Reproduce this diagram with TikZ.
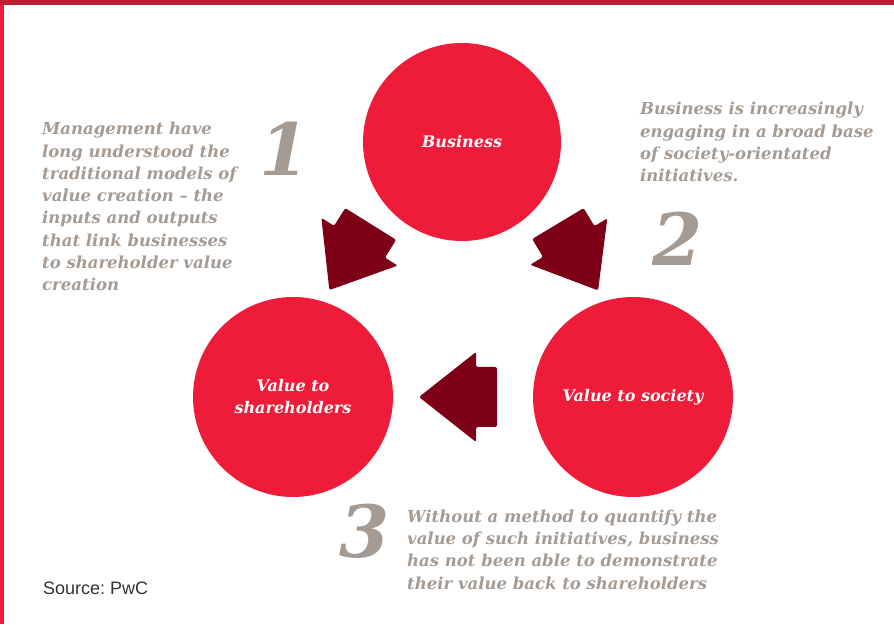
\documentclass[tikz,border=0pt]{standalone}
\usepackage{fontspec}
\setmainfont{DejaVu Serif}
\setsansfont{Liberation Sans}
\definecolor{pwcred}{HTML}{EE1C39}
\definecolor{pwcbar}{HTML}{BA1F33}
\definecolor{pwcdark}{HTML}{7D0017}
\definecolor{pwcgrey}{HTML}{A69B92}
\tikzset{
  circ/.style={circle, fill=pwcred, minimum size=200pt, inner sep=0pt,
    text=white, align=center, font=\fontsize{16}{22}\selectfont\bfseries\itshape},
  note/.style={anchor=north west, inner sep=0pt, align=left, text=pwcgrey,
    font=\fontsize{16.5}{22.3}\selectfont\bfseries\itshape},
  num/.style={inner sep=0pt, text=pwcgrey, font=\fontsize{72}{72}\selectfont\bfseries\itshape},
  bigarrow/.pic={
    \fill[pwcdark, rounded corners=2pt] (39,0) -- (-18,45) -- (-18,30) -- (-39,30)
      -- (-39,-30) -- (-18,-30) -- (-18,-45) -- cycle;
  },
}
\begin{document}
\begin{tikzpicture}[x=1pt, y=1pt]
\useasboundingbox (0,0) rectangle (894,624);
\fill[pwcbar] (0,619) rectangle (894,624);
\fill[pwcred] (0,0) rectangle (4,619);
% circles
\node[circ, minimum size=198pt] (bus) at (462,482) {Business};
\node[circ] (sha) at (293,227) {Value to\\shareholders};
\node[circ] (soc) at (633,227) {Value to society};
% arrows
\pic[rotate=238] (arr1) at (350,367) {bigarrow};
\pic[rotate=301] (arr2) at (578,367) {bigarrow};
\pic[rotate=180] (arr3) at (458,227) {bigarrow};
% numbers
\node[num] (n1) at (285,475) {1};
\node[num] (n2) at (678,385) {2};
\node[num] (n3) at (365,93) {3};
% texts
\node[note] (t1) at (42,502) {Management have\\long understood the\\traditional models of\\value creation – the\\inputs and outputs\\that link businesses\\to shareholder value\\creation};
\node[note] (t2) at (640,522) {Business is increasingly\\engaging in a broad base\\of society-orientated\\initiatives.};
\node[note] (t3) at (407,114.5) {Without a method to quantify the\\value of such initiatives, business\\has not been able to demonstrate\\their value back to shareholders};
\node[anchor=base west, inner sep=0pt, text=black!80, font=\sffamily\fontsize{18}{20}\selectfont] (src) at (43,30) {Source:\ PwC};
\end{tikzpicture}
\end{document}
